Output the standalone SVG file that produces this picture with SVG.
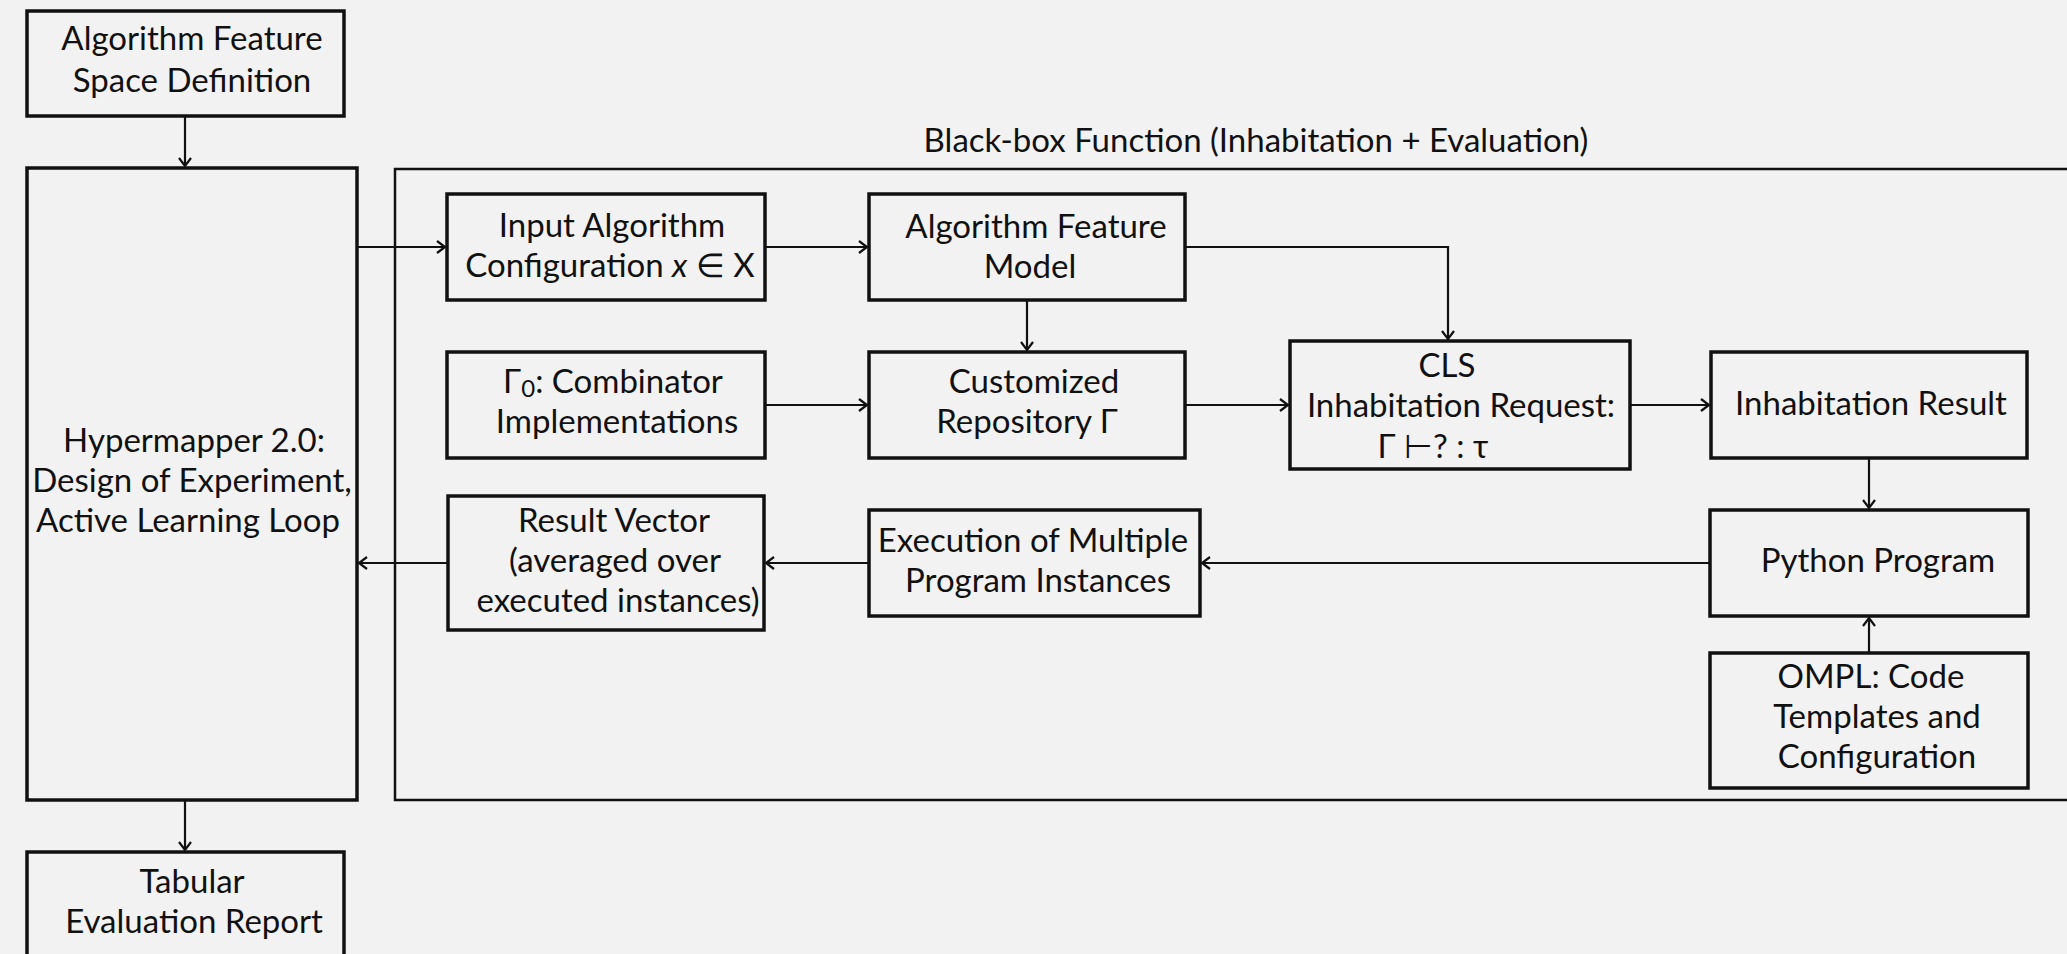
<svg xmlns="http://www.w3.org/2000/svg" width="2067" height="954" viewBox="0 0 2067 954">
  <style>
    .box { fill: none; stroke: #111; stroke-width: 3.5; }
    .frame { fill: none; stroke: #111; stroke-width: 2.5; }
    .edge { fill: none; stroke: #111; stroke-width: 2.2; }
    text { font-family: Lato, "Open Sans", sans-serif; font-size: 33px; fill: #111; text-anchor: middle; }
    .sub { font-size: 24px; }
  </style>
  <defs>
    <marker id="arrow" markerUnits="userSpaceOnUse" markerWidth="12" markerHeight="14" refX="9" refY="7" orient="auto">
      <path d="M1,1 L9,7 L1,13" fill="none" stroke="#111" stroke-width="2.2"/>
    </marker>
  </defs>

  <rect width="2067" height="954" fill="#f2f2f2"/>

  <!-- black-box container (runs past the right edge) -->
  <g id="blackbox">
    <rect class="frame" x="395" y="169" width="1720" height="631"/>
    <text x="1256" y="152">Black-box Function (Inhabitation + Evaluation)</text>
  </g>

  <g id="feature-space">
    <rect class="box" x="27" y="11" width="317" height="105"/>
    <text x="192" y="50">Algorithm Feature</text>
    <text x="192" y="92">Space Definition</text>
  </g>

  <g id="hypermapper">
    <rect class="box" x="27" y="168" width="330" height="632"/>
    <text x="194" y="452">Hypermapper 2.0:</text>
    <text x="192" y="492">Design of Experiment,</text>
    <text x="188" y="532">Active Learning Loop</text>
  </g>

  <g id="report">
    <rect class="box" x="27" y="852" width="317" height="130"/>
    <text x="192" y="893">Tabular</text>
    <text x="194" y="933">Evaluation Report</text>
  </g>

  <g id="input-config">
    <rect class="box" x="447" y="194" width="318" height="106"/>
    <text x="612" y="237">Input Algorithm</text>
    <text x="610" y="277">Configuration <tspan font-style="italic">x</tspan> ∈ X</text>
  </g>

  <g id="combinators">
    <rect class="box" x="447" y="352" width="318" height="106"/>
    <text x="613" y="393">Γ<tspan class="sub" dy="4">0</tspan><tspan dy="-4">: Combinator</tspan></text>
    <text x="617" y="433">Implementations</text>
  </g>

  <g id="result-vector">
    <rect class="box" x="448" y="496" width="316" height="134"/>
    <text x="614" y="532">Result Vector</text>
    <text x="615" y="572">(averaged over</text>
    <text x="618" y="612">executed instances)</text>
  </g>

  <g id="feature-model">
    <rect class="box" x="869" y="194" width="316" height="106"/>
    <text x="1036" y="238">Algorithm Feature</text>
    <text x="1030" y="278">Model</text>
  </g>

  <g id="repository">
    <rect class="box" x="869" y="352" width="316" height="106"/>
    <text x="1034" y="393">Customized</text>
    <text x="1027" y="433">Repository Γ</text>
  </g>

  <g id="execution">
    <rect class="box" x="869" y="510" width="331" height="106"/>
    <text x="1033" y="552">Execution of Multiple</text>
    <text x="1038" y="592">Program Instances</text>
  </g>

  <g id="cls-request">
    <rect class="box" x="1290" y="341" width="340" height="128"/>
    <text x="1447" y="377">CLS</text>
    <text x="1461" y="417">Inhabitation Request:</text>
    <text x="1433" y="458">Γ ⊢? : τ</text>
  </g>

  <g id="inhabitation-result">
    <rect class="box" x="1711" y="352" width="316" height="106"/>
    <text x="1871" y="415">Inhabitation Result</text>
  </g>

  <g id="python-program">
    <rect class="box" x="1710" y="510" width="318" height="106"/>
    <text x="1878" y="572">Python Program</text>
  </g>

  <g id="ompl">
    <rect class="box" x="1710" y="653" width="318" height="135"/>
    <text x="1871" y="688">OMPL: Code</text>
    <text x="1877" y="728">Templates and</text>
    <text x="1877" y="768">Configuration</text>
  </g>

  <g id="connectors">
    <line class="edge" x1="185" y1="116" x2="185" y2="166" marker-end="url(#arrow)"/>
    <line class="edge" x1="357" y1="247" x2="445" y2="247" marker-end="url(#arrow)"/>
    <line class="edge" x1="765" y1="247" x2="867" y2="247" marker-end="url(#arrow)"/>
    <polyline class="edge" points="1185,247 1448,247 1448,339" marker-end="url(#arrow)"/>
    <line class="edge" x1="1027" y1="300" x2="1027" y2="350" marker-end="url(#arrow)"/>
    <line class="edge" x1="765" y1="405" x2="867" y2="405" marker-end="url(#arrow)"/>
    <line class="edge" x1="1185" y1="405" x2="1288" y2="405" marker-end="url(#arrow)"/>
    <line class="edge" x1="1630" y1="405" x2="1709" y2="405" marker-end="url(#arrow)"/>
    <line class="edge" x1="1869" y1="458" x2="1869" y2="508" marker-end="url(#arrow)"/>
    <line class="edge" x1="1869" y1="653" x2="1869" y2="618" marker-end="url(#arrow)"/>
    <line class="edge" x1="1710" y1="563" x2="1202" y2="563" marker-end="url(#arrow)"/>
    <line class="edge" x1="869" y1="563" x2="766" y2="563" marker-end="url(#arrow)"/>
    <line class="edge" x1="448" y1="563" x2="359" y2="563" marker-end="url(#arrow)"/>
    <line class="edge" x1="185" y1="800" x2="185" y2="850" marker-end="url(#arrow)"/>
  </g>
</svg>
